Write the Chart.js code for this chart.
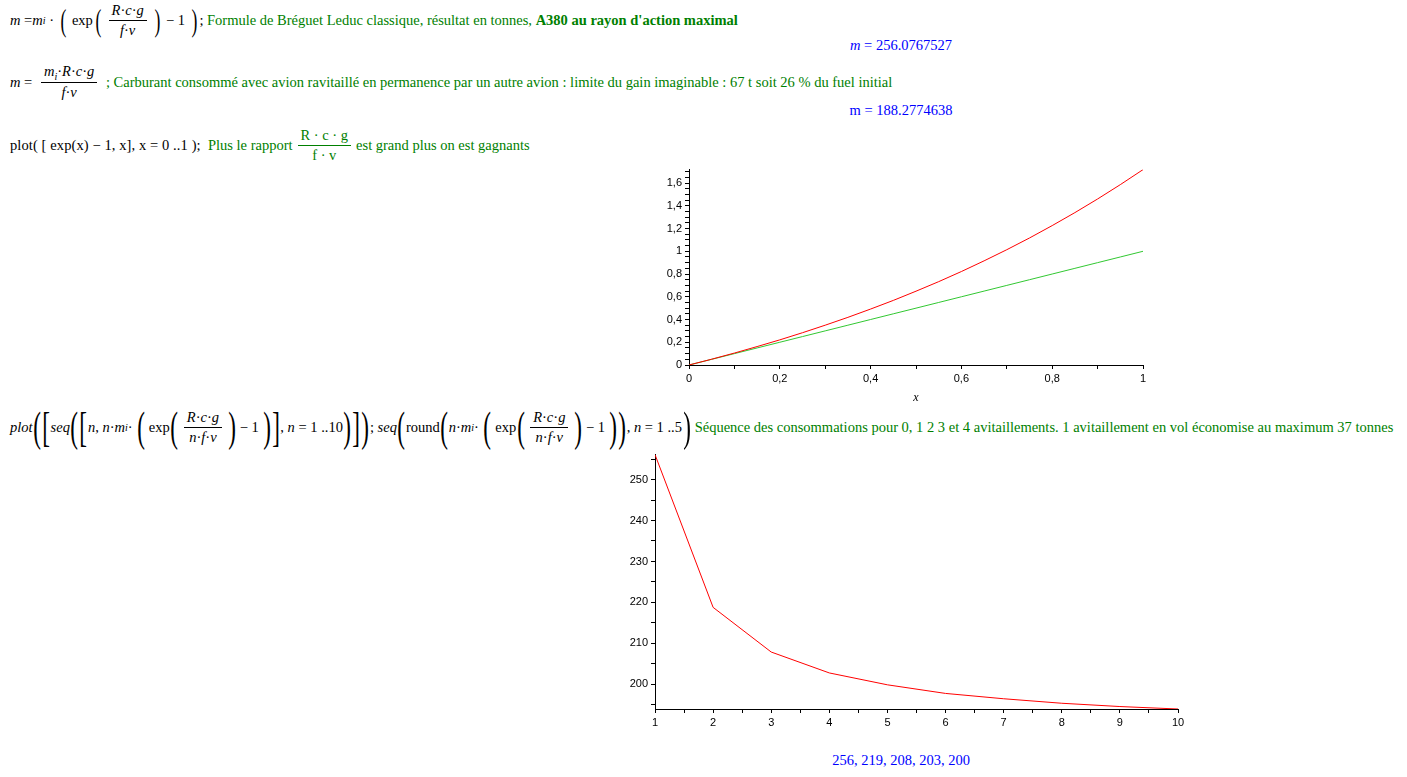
<!DOCTYPE html>
<html>
<head>
<meta charset="utf-8">
<script src="https://cdn.jsdelivr.net/npm/chart.js@4"></script>
<style>
body { margin:0; background:#fff; width:1407px; height:777px; overflow:hidden; position:relative;
       font-family:"Liberation Serif", "Times New Roman", serif; font-size:14.5px; color:#000; }
.row { position:absolute; left:10px; display:flex; align-items:center; white-space:nowrap; }
.g { color:#008000; }
.b { color:#0000ff; }
i { font-style:italic; }
sub { font-size:10px; }
.frac { display:inline-flex; flex-direction:column; align-items:center; vertical-align:middle; margin:0 5px; }
.frac .n { border-bottom:1px solid currentColor; padding:0 3px 1px; }
.frac .d { padding:1px 3px 0; }
.p { font-size:32px; transform:scaleX(0.55); display:inline-block; line-height:32px; font-weight:normal; margin:0 0px; }
.pb { font-size:42px; transform:scaleX(0.55); display:inline-block; line-height:42px; margin:0 -2.5px; }
.out { position:absolute; width:1802px; left:0; text-align:center; }
.box { position:absolute; }
</style>
</head>
<body>

<div class="row" style="top:3px;height:34px;">
  <i>m</i>&nbsp;=<i>m</i><sub><i>i</i></sub>&nbsp;·&nbsp;<span class="p">(</span>&nbsp;exp<span class="p">(</span><span class="frac"><span class="n"><i>R</i>·<i>c</i>·<i>g</i></span><span class="d"><i>f</i>·<i>v</i></span></span><span class="p">)</span>&nbsp;−&nbsp;1&nbsp;<span class="p">)</span>;&nbsp;<span class="g">Formule de Bréguet Leduc classique, résultat en tonnes, <b>A380 au rayon d'action maximal</b></span>
</div>
<div class="out b" style="top:37px;"><i>m</i> = 256.0767527</div>

<div class="row" style="top:61px;height:42px;">
  <i>m</i>&nbsp;=&nbsp;<span class="frac"><span class="n"><i>m</i><sub><i>i</i></sub>·<i>R</i>·<i>c</i>·<i>g</i></span><span class="d"><i>f</i>·<i>v</i></span></span>&nbsp;<span class="g">; Carburant consommé avec avion ravitaillé en permanence par un autre avion : limite du gain imaginable : 67 t soit 26 % du fuel initial</span>
</div>
<div class="out b" style="top:102px;">m = 188.2774638</div>

<div class="row" style="top:125px;height:40px;">
  <span style="letter-spacing:0.1px;">plot(&nbsp;[&nbsp;exp(x)&nbsp;−&nbsp;1,&nbsp;x],&nbsp;x&nbsp;=&nbsp;0&nbsp;..1&nbsp;);</span>&nbsp;&nbsp;<span class="g">Plus le rapport</span><span class="frac g"><span class="n">R · c · g</span><span class="d">f · v</span></span><span class="g">est grand plus on est gagnants</span>
</div>

<div class="box" style="left:640px;top:160px;width:510px;height:245px;"><canvas id="c1"></canvas></div>

<div class="row" style="top:405px;height:44px;">
  <i>plot</i><span class="pb">(</span><span class="pb">[</span><i>seq</i><span class="pb">(</span><span class="pb">[</span><i>n</i>,&nbsp;<i>n</i>·<i>m</i><sub><i>i</i></sub>·&nbsp;<span class="pb">(</span>&nbsp;exp<span class="pb">(</span><span class="frac"><span class="n"><i>R</i>·<i>c</i>·<i>g</i></span><span class="d"><i>n</i>·<i>f</i>·<i>v</i></span></span><span class="pb">)</span>&nbsp;−&nbsp;1&nbsp;<span class="pb">)</span><span class="pb">]</span>,&nbsp;<i>n</i>&nbsp;=&nbsp;1&nbsp;..10<span class="pb">)</span><span class="pb">]</span><span class="pb">)</span>;&nbsp;<i>seq</i><span class="pb">(</span>round<span class="pb">(</span><i>n</i>·<i>m</i><sub><i>i</i></sub>·&nbsp;<span class="pb">(</span>&nbsp;exp<span class="pb">(</span><span class="frac"><span class="n"><i>R</i>·<i>c</i>·<i>g</i></span><span class="d"><i>n</i>·<i>f</i>·<i>v</i></span></span><span class="pb">)</span>&nbsp;−&nbsp;1&nbsp;<span class="pb">)</span><span class="pb">)</span>,&nbsp;<i>n</i>&nbsp;=&nbsp;1&nbsp;..5<span class="pb">)</span>&nbsp;<span class="g">Séquence des consommations pour 0, 1 2 3 et 4 avitaillements. 1 avitaillement en vol économise au maximum 37 tonnes</span>
</div>

<div class="box" style="left:600px;top:445px;width:600px;height:290px;"><canvas id="c2"></canvas></div>

<div class="out b" style="top:752px;">256, 219, 208, 203, 200</div>

<script>
// plot 1 : exp(x) - 1 and x
const xs1 = [0, 0.05, 0.1, 0.15, 0.2, 0.25, 0.3, 0.35, 0.4, 0.45, 0.5, 0.55, 0.6, 0.65, 0.7, 0.75, 0.8, 0.85, 0.9, 0.95, 1];
const expCurve = [0, 0.051, 0.105, 0.162, 0.221, 0.284, 0.350, 0.419, 0.492, 0.568, 0.649, 0.733, 0.822, 0.916, 1.014, 1.117, 1.226, 1.340, 1.460, 1.586, 1.718];
const idLine = [0, 0.05, 0.1, 0.15, 0.2, 0.25, 0.3, 0.35, 0.4, 0.45, 0.5, 0.55, 0.6, 0.65, 0.7, 0.75, 0.8, 0.85, 0.9, 0.95, 1];

// plot 2 : consumption vs number of segments
const nVals = [1, 2, 3, 4, 5, 6, 7, 8, 9, 10];
const conso = [256.08, 218.8, 207.9, 202.8, 199.9, 197.8, 196.5, 195.4, 194.6, 194.0];

function pts(xs, ys) {
  return xs.map((x, i) => ({ x: x, y: ys[i] }));
}

function onStep(v, step) {
  return Math.abs(v / step - Math.round(v / step)) < 1e-6;
}

const tickFont = { family: 'Liberation Sans', size: 11 };

function axis(extra) {
  return Object.assign({
    type: 'linear',
    border: { color: '#000', width: 1 },
    grid: { drawOnChartArea: false, drawTicks: true, tickLength: 4, color: '#000', lineWidth: 1 },
  }, extra);
}

chart1 = new Chart(document.getElementById('c1'), {
  type: 'line',
  data: {
    datasets: [
      { data: pts(xs1, expCurve), borderColor: '#ff0000', borderWidth: 1, pointRadius: 0, tension: 0 },
      { data: pts(xs1, idLine), borderColor: 'rgb(50,200,50)', borderWidth: 1, pointRadius: 0, tension: 0 }
    ]
  },
  options: {
    animation: false,
    responsive: true,
    maintainAspectRatio: false,
    layout: { padding: { top: 8, right: 7, left: 0, bottom: 0 } },
    plugins: { legend: { display: false }, tooltip: { enabled: false } },
    scales: {
      x: axis({
        min: 0, max: 1,
        afterFit: (s) => { s.height = 40; },
        title: { display: true, text: 'x', font: { family: 'Liberation Serif', size: 12, style: 'italic' }, color: '#000', padding: { top: 0, bottom: 0 } },
        ticks: {
          stepSize: 0.1, autoSkip: false, maxRotation: 0, includeBounds: false, color: '#000', font: tickFont, padding: 3,
          callback: (v) => onStep(v, 0.2) ? String(Math.round(v * 10) / 10).replace('.', ',') : ''
        }
      }),
      y: axis({
        min: 0, max: 1.7183,
        afterFit: (s) => { s.width = 49; },
        ticks: {
          stepSize: 0.05, autoSkip: false, includeBounds: false, color: '#000', font: tickFont, padding: 3,
          callback: (v) => onStep(v, 0.2) ? String(Math.round(v * 10) / 10).replace('.', ',') : ''
        }
      })
    }
  }
});

chart2 = new Chart(document.getElementById('c2'), {
  type: 'line',
  data: {
    datasets: [
      { data: pts(nVals, conso), borderColor: '#ff0000', borderWidth: 1, pointRadius: 0, tension: 0 }
    ]
  },
  options: {
    animation: false,
    responsive: true,
    maintainAspectRatio: false,
    layout: { padding: { top: 9, right: 22, left: 0, bottom: 0 } },
    plugins: { legend: { display: false }, tooltip: { enabled: false } },
    scales: {
      x: axis({
        min: 1, max: 10,
        afterFit: (s) => { s.height = 26; },
        ticks: {
          stepSize: 0.5, autoSkip: false, maxRotation: 0, color: '#000', font: tickFont, padding: 3,
          callback: (v) => onStep(v, 1) ? String(Math.round(v)) : ''
        }
      }),
      y: axis({
        min: 194.0, max: 256.08,
        afterFit: (s) => { s.width = 55; },
        ticks: {
          stepSize: 5, autoSkip: false, includeBounds: false, color: '#000', font: tickFont, padding: 3,
          callback: (v) => onStep(v, 10) ? String(Math.round(v)) : ''
        }
      })
    }
  }
});
</script>
</body>
</html>
